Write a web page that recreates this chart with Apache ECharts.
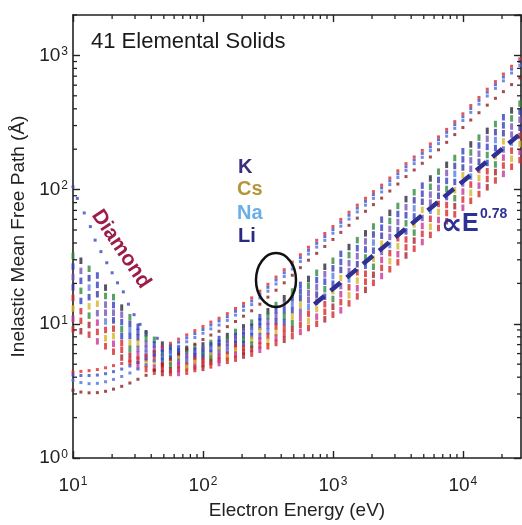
<!DOCTYPE html>
<html><head><meta charset="utf-8">
<script src="https://cdn.jsdelivr.net/npm/echarts@6/dist/echarts.min.js"></script>
<style>html,body{margin:0;padding:0;background:#fff}#c{width:522px;height:525px}</style>
</head><body><div id="c"></div>
<script>
// Electron energies (eV)
const energies = [10, 11.5, 13.3, 15.4, 17.8, 20.5, 23.7, 27.4, 31.6, 36.5, 42.2, 48.7, 56.2, 64.9, 75, 86.6,
  100, 115, 133, 154, 178, 205, 237, 274, 316, 365, 422, 487, 562, 649, 750, 866,
  1000, 1150, 1330, 1540, 1780, 2050, 2370, 2740, 3160, 3650, 4220, 4870, 5620, 6490, 7500, 8660,
  10000, 11500, 13300, 15400, 17800, 20500, 23700, 27400];

// IMFPs (Å) of the bulk of the elemental solids (band, from top to bottom)
const band0 = [32.0, 29.5, 25.7, 22.9, 18.6, 15.8, 13.2, 11.2, 9.5, 8.5, 7.6, 7.0, 6.7, 6.5, 6.5, 6.7, 6.9, 7.2, 7.7, 8.1, 8.7, 9.4, 10.2, 11.2, 12.4, 13.8, 15.5, 17.4, 19.5, 21.6, 24.0, 26.6, 29.5, 33.2, 37.3, 42.0, 47.2, 53.1, 59.7, 67.1, 75.5, 84.9, 95.5, 107, 121, 136, 153, 172, 193, 217, 244, 274, 308, 346, 389, 437];
const band1 = [26.7, 24.8, 21.9, 19.5, 16.1, 13.8, 11.7, 10.0, 8.7, 7.8, 7.0, 6.5, 6.3, 6.2, 6.2, 6.3, 6.5, 6.9, 7.2, 7.6, 8.1, 8.8, 9.5, 10.4, 11.4, 12.6, 14.0, 15.6, 17.4, 19.2, 21.2, 23.4, 25.9, 28.9, 32.5, 36.6, 41.1, 46.3, 52.0, 58.4, 65.8, 73.9, 83.2, 93.2, 105, 118, 133, 150, 168, 189, 213, 239, 268, 301, 339, 381];
const band2 = [22.3, 20.9, 18.6, 16.6, 13.9, 12.1, 10.3, 9.0, 7.9, 7.1, 6.5, 6.1, 5.9, 5.8, 5.8, 6.0, 6.2, 6.5, 6.8, 7.2, 7.6, 8.2, 8.8, 9.5, 10.4, 11.5, 12.6, 14.0, 15.5, 17.0, 18.7, 20.6, 22.7, 25.2, 28.3, 31.9, 35.8, 40.3, 45.3, 50.9, 57.3, 64.4, 72.5, 81.2, 91.8, 103, 116, 131, 146, 165, 185, 208, 234, 263, 295, 332];
const band3 = [18.7, 17.6, 15.8, 14.1, 12.1, 10.6, 9.1, 8.1, 7.1, 6.5, 6.0, 5.7, 5.5, 5.5, 5.5, 5.7, 5.9, 6.1, 6.4, 6.7, 7.1, 7.6, 8.1, 8.8, 9.6, 10.4, 11.4, 12.6, 13.8, 15.1, 16.5, 18.1, 19.9, 21.9, 24.7, 27.8, 31.2, 35.1, 39.5, 44.4, 49.9, 56.1, 63.1, 70.7, 80.0, 89.9, 101, 114, 128, 143, 161, 181, 204, 229, 257, 289];
const band4 = [15.6, 14.8, 13.5, 12.0, 10.4, 9.2, 8.1, 7.2, 6.5, 6.0, 5.5, 5.3, 5.2, 5.2, 5.2, 5.4, 5.6, 5.8, 6.1, 6.3, 6.7, 7.1, 7.6, 8.1, 8.8, 9.5, 10.3, 11.3, 12.3, 13.4, 14.6, 15.9, 17.5, 19.1, 21.4, 24.2, 27.1, 30.5, 34.3, 38.6, 43.4, 48.8, 54.9, 61.5, 69.6, 78.2, 88.0, 98.9, 111, 125, 140, 158, 177, 199, 224, 251];
const band5 = [13.0, 12.4, 11.5, 10.2, 9.0, 8.1, 7.2, 6.5, 5.9, 5.5, 5.1, 4.9, 4.9, 4.9, 4.9, 5.1, 5.3, 5.5, 5.7, 5.9, 6.3, 6.6, 7.0, 7.5, 8.1, 8.6, 9.3, 10.1, 11.0, 11.9, 12.9, 14.0, 15.3, 16.6, 18.7, 21.0, 23.6, 26.6, 29.9, 33.6, 37.8, 42.5, 47.8, 53.6, 60.6, 68.1, 76.7, 86.2, 96.7, 109, 122, 137, 154, 173, 195, 219];
const band6 = [10.9, 10.5, 9.8, 8.7, 7.8, 7.1, 6.4, 5.8, 5.3, 5.0, 4.7, 4.6, 4.5, 4.6, 4.7, 4.8, 5.0, 5.2, 5.4, 5.6, 5.9, 6.2, 6.5, 6.9, 7.4, 7.9, 8.4, 9.1, 9.8, 10.5, 11.3, 12.3, 13.4, 14.5, 16.3, 18.4, 20.6, 23.2, 26.1, 29.3, 33.0, 37.1, 41.7, 46.8, 52.9, 59.4, 66.9, 75.2, 84.3, 94.8, 107, 120, 135, 151, 170, 191];
const band7 = [9.1, 8.8, 8.3, 7.4, 6.8, 6.2, 5.6, 5.2, 4.8, 4.6, 4.4, 4.3, 4.3, 4.3, 4.4, 4.6, 4.7, 4.9, 5.1, 5.3, 5.5, 5.8, 6.0, 6.4, 6.8, 7.2, 7.6, 8.1, 8.7, 9.3, 10.0, 10.8, 11.7, 12.6, 14.2, 16.0, 17.9, 20.2, 22.7, 25.5, 28.7, 32.3, 36.3, 40.7, 46.0, 51.7, 58.1, 65.4, 73.3, 82.5, 92.7, 104, 117, 131, 148, 166];

// Alkali metals
const imfpK  = [4.37, 4.42, 4.48, 4.56, 4.70, 4.88, 5.06, 5.28, 5.56, 5.85, 6.20, 6.67, 7.16, 7.69, 8.27, 8.89, 9.55, 10.3, 11.0, 11.9, 13.0, 14.2, 15.6, 17.5, 19.7, 22.3, 25.3, 28.8, 32.7, 37.2, 41.9, 47.1, 53.1, 60.0, 67.8, 76.6, 86.1, 96.6, 108, 122, 138, 156, 175, 196, 219, 247, 281, 321, 367, 423, 486, 560, 638, 726, 830, 944];
const imfpCs = [4.15, 4.12, 4.12, 4.15, 4.25, 4.4, 4.6, 4.85, 5.15, 5.5, 5.9, 6.35, 6.8, 7.3, 7.85, 8.45, 9.07, 9.8, 10.5, 11.3, 12.4, 13.5, 14.8, 16.6, 18.7, 21.2, 24.0, 27.4, 31.1, 35.3, 39.8, 44.7, 50.4, 57.0, 64.4, 72.8, 81.8, 91.8, 103, 116, 131, 148, 166, 186, 208, 235, 267, 305, 349, 402, 462, 532, 606, 690, 789, 897];
const imfpNa = [3.8, 3.65, 3.58, 3.6, 3.7, 3.85, 4.05, 4.3, 4.6, 4.95, 5.3, 5.75, 6.25, 6.8, 7.35, 7.9, 8.5, 9.17, 9.79, 10.6, 11.6, 12.6, 13.9, 15.6, 17.5, 19.8, 22.5, 25.6, 29.1, 33.1, 37.3, 41.9, 47.3, 53.4, 60.3, 68.2, 76.6, 86.0, 96.1, 109, 123, 139, 156, 174, 195, 220, 250, 286, 327, 376, 433, 498, 568, 646, 739, 840];
const imfpLi = [3.2, 3.1, 3.06, 3.07, 3.14, 3.26, 3.42, 3.62, 3.86, 4.13, 4.5, 4.95, 5.45, 5.95, 6.5, 7.05, 7.64, 8.24, 8.8, 9.52, 10.4, 11.4, 12.5, 14.0, 15.8, 17.8, 20.2, 23.0, 26.2, 29.8, 33.5, 37.7, 42.5, 48.0, 54.2, 61.3, 68.9, 77.3, 86.4, 97.6, 110, 125, 140, 157, 175, 198, 225, 257, 290, 330, 374, 426, 479, 537, 606, 680];

// Diamond (low-energy branch)
const diamondE = [10, 10.8, 12.2, 13.6, 14.8, 16.4, 18.2, 20, 22, 24.4, 26.7, 29.5, 32.8, 36.5, 44.5];
const diamondV = [105, 86, 67, 53, 42, 34.5, 28.5, 24, 20.2, 17.3, 14, 11.7, 9.9, 8.6, 7.8];

// E^0.78 guide line
const trendE = [720, 27000];
const trendV = [14, 255];

const xRange = [10, 28000];
const yRange = [1, 2000];
const xMinor = [20,30,40,50,60,70,80,90,200,300,400,500,600,700,800,900,2000,3000,4000,5000,6000,7000,8000,9000,20000];
const yMinor = [2,3,4,5,6,7,8,9,20,30,40,50,60,70,80,90,200,300,400,500,600,700,800,900,2000];

const FONT = '"Liberation Sans", Arial, Helvetica, sans-serif';
const AX = '#222';

const bands = [band0, band1, band2, band3, band4, band5, band6, band7];
const G = '#2f8a3e', BK = '#2a2a3a', BL = '#3340c0', PU = '#7552b8', NV = '#3a3aa8', LB = '#5a7ee0',
      YE = '#d4b52a', MG = '#c8369a', RD = '#d42a2a', DR = '#a8242c';
const bandPalettes = [
  [G, BK, G, BL, BK],
  [BL, PU, NV, BL, G],
  [PU, BL, LB, NV, PU],
  [NV, G, BL, YE, PU],
  [RD, BL, YE, PU, LB],
  [YE, RD, G, MG, RD],
  [MG, RD, DR, RD, YE],
  [RD, DR, RD, MG, RD]
];

const pair = (xs, ys) => xs.map((x, i) => [x, ys[i]]);

const series = [];
bands.forEach((b, k) => {
  const pal = bandPalettes[k];
  series.push({type: 'scatter', name: 'band' + k, data: pair(energies, b), symbol: 'rect', symbolSize: [3, 6.5],
    itemStyle: {color: p => pal[p.dataIndex % pal.length]}, silent: true, z: 2});
});
[[imfpLi, '#8c1f1f'], [imfpNa, '#4f6fe0'], [imfpCs, '#3b4fd0'], [imfpK, '#e02a2a']].forEach(([d, c]) => {
  series.push({type: 'scatter', data: pair(energies, d), symbol: 'rect', symbolSize: 3,
    itemStyle: {color: c}, silent: true, z: 3});
});
series.push({type: 'scatter', data: pair(diamondE, diamondV), symbol: 'rect', symbolSize: 3,
  itemStyle: {color: '#3a46c0'}, silent: true, z: 3});
series.push({type: 'line', data: pair(trendE, trendV), symbol: 'none', silent: true, z: 4,
  lineStyle: {color: '#2e3192', width: 4.5, type: [13, 8]}});

const labelFmt = v => '{b|10}{s|' + Math.round(Math.log10(v)) + '}';
const rich = {
  b: {fontSize: 19, color: AX, fontFamily: FONT},
  s: {fontSize: 12, color: AX, fontFamily: FONT, verticalAlign: 'top', padding: [0, 0, 0, 1]}
};
const axisCommon = {
  type: 'log', logBase: 10,
  axisLine: {show: true, lineStyle: {color: AX, width: 1.6}},
  axisTick: {show: true, inside: true, length: 7, lineStyle: {color: AX, width: 1.4}},
  splitLine: {show: false}, minorTick: {show: false}
};

const option = {
  animation: false,
  backgroundColor: '#fff',
  textStyle: {fontFamily: FONT},
  grid: {left: 73, right: 1, top: 15, bottom: 60, containLabel: false},
  xAxis: [
    Object.assign({}, axisCommon, {min: xRange[0], max: xRange[1], position: 'bottom',
      axisLabel: {formatter: labelFmt, rich: rich, margin: 18, showMaxLabel: false},
      name: 'Electron Energy (eV)', nameLocation: 'middle', nameGap: 43,
      nameTextStyle: {fontSize: 19, color: AX, fontFamily: FONT}}),
    Object.assign({}, axisCommon, {min: xRange[0], max: xRange[1], position: 'top', axisLabel: {show: false}})
  ],
  yAxis: [
    Object.assign({}, axisCommon, {min: yRange[0], max: yRange[1], position: 'left',
      axisLabel: {formatter: labelFmt, rich: rich, margin: 5, showMaxLabel: false},
      name: 'Inelastic Mean Free Path (Å)', nameLocation: 'middle', nameGap: 41,
      nameTextStyle: {fontSize: 19, color: AX, fontFamily: FONT}}),
    Object.assign({}, axisCommon, {min: yRange[0], max: yRange[1], position: 'right', axisLabel: {show: false}})
  ],
  series: series
};

const chart = echarts.init(document.getElementById('c'), null, {renderer: 'canvas'});
chart.setOption(option);

const px = v => chart.convertToPixel({xAxisIndex: 0}, v);
const py = v => chart.convertToPixel({yAxisIndex: 0}, v);
const L = px(xRange[0]), R = px(xRange[1]), B = py(yRange[0]), T = py(yRange[1]);
const g = [];
const tick = (x1, y1, x2, y2) => g.push({type: 'line', silent: true, z: 10,
  shape: {x1, y1, x2, y2}, style: {stroke: AX, lineWidth: 1.3}});
xMinor.forEach(v => { const x = px(v); tick(x, B, x, B - 4); tick(x, T, x, T + 4); });
yMinor.forEach(v => { const y = py(v); tick(L, y, L + 4, y); tick(R, y, R - 4, y); });

const txt = (text, x, y, font, fill) => g.push({type: 'text', x, y, silent: true, z: 20,
  style: {text, font, fill, textAlign: 'left', textVerticalAlign: 'middle'}});

txt('41 Elemental Solids', 91, 42, '22px ' + FONT, '#1a1a1a');
g.push({type: 'text', x: 121, y: 249, rotation: -0.98, silent: true, z: 20,
  style: {text: 'Diamond', font: 'bold 21px ' + FONT, fill: '#9b1d48', textAlign: 'center', textVerticalAlign: 'middle'}});
txt('K', 238, 167, 'bold 20px ' + FONT, '#3d2d7d');
txt('Cs', 237, 189, 'bold 20px ' + FONT, '#b5953a');
txt('Na', 237, 213, 'bold 20px ' + FONT, '#6aaee6');
txt('Li', 238, 236, 'bold 20px ' + FONT, '#2c2a7e');
txt('\u221D', 441, 226, 'bold 30px "DejaVu Sans", ' + FONT, '#2e3192');
txt('E', 462, 224, 'bold 25px ' + FONT, '#2e3192');
txt('0.78', 480, 214, 'bold 14px ' + FONT, '#2e3192');
g.push({type: 'ellipse', silent: true, z: 20, shape: {cx: 276, cy: 280, rx: 20, ry: 27},
  style: {fill: 'none', stroke: '#111', lineWidth: 2.5}});

chart.setOption({graphic: g});
</script>
</body></html>
